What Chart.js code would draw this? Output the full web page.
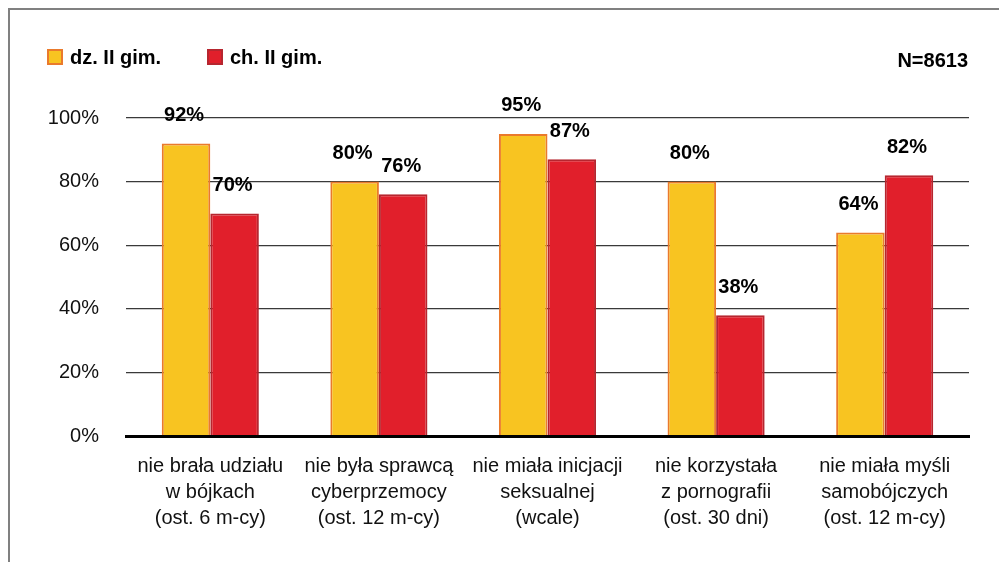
<!DOCTYPE html>
<html>
<head>
<meta charset="utf-8">
<script src="https://cdn.jsdelivr.net/npm/chart.js@4.4.1/dist/chart.umd.min.js"></script>
<style>
  html, body { margin: 0; padding: 0; background: #fff; }
  #wrap { position: relative; width: 999px; height: 562px; }
  #frame {
    position: absolute; left: 8px; top: 8px; right: 0; bottom: 0;
    border-top: 2px solid #808080; border-left: 2px solid #808080;
  }
  canvas { position: absolute; left: 0; top: 0; }
</style>
</head>
<body>
<div id="wrap">
  <div id="frame"></div>
  <canvas id="myChart" width="999" height="562"></canvas>
</div>
<script>
const FONT = '"Liberation Sans", Arial, Helvetica, sans-serif';

// dane
const categories = [
  ['nie brała udziału', 'w bójkach', '(ost. 6 m-cy)'],
  ['nie była sprawcą', 'cyberprzemocy', '(ost. 12 m-cy)'],
  ['nie miała inicjacji', 'seksualnej', '(wcale)'],
  ['nie korzystała', 'z pornografii', '(ost. 30 dni)'],
  ['nie miała myśli', 'samobójczych', '(ost. 12 m-cy)'],
];
const girlsII = [92, 80, 95, 80, 64];
const boysII = [70, 76, 87, 38, 82];
const seriesNames = ['dz. II gim.', 'ch. II gim.'];
const yTicks = [0, 20, 40, 60, 80, 100];
const sampleNote = 'N=8613';

// legenda, N i etykiety wartości
const extrasPlugin = {
  id: 'extras',
  afterDatasetsDraw(chart) {
    const ctx = chart.ctx;
    ctx.save();
    ctx.font = 'bold 20px ' + FONT;
    ctx.fillStyle = '#000';
    ctx.textAlign = 'center';
    ctx.textBaseline = 'middle';
    chart.data.datasets.forEach((ds, di) => {
      const meta = chart.getDatasetMeta(di);
      meta.data.forEach((bar, i) => {
        ctx.fillText(ds.data[i] + '%', bar.x - 2, bar.y - 28);
      });
    });

    // legenda
    const legendX = [48, 208];
    chart.data.datasets.forEach((ds, di) => {
      const x = legendX[di];
      ctx.fillStyle = ds.backgroundColor;
      ctx.fillRect(x, 50, 14, 14);
      ctx.strokeStyle = ds.borderColor;
      ctx.lineWidth = 2;
      ctx.strokeRect(x, 50, 14, 14);
      ctx.fillStyle = '#000';
      ctx.textAlign = 'left';
      ctx.fillText(ds.label, x + 22, 58);
    });

    ctx.textAlign = 'right';
    ctx.fillText(sampleNote, 968, 61);
    ctx.restore();
  }
};

const ctx = document.getElementById('myChart');

const config = {
  type: 'bar',
  data: {
    labels: categories,
    datasets: [
      {
        label: seriesNames[0],
        data: girlsII,
        backgroundColor: '#F8C421',
        borderColor: '#EA7A2C',
        borderWidth: 2,
        categoryPercentage: 0.576,
        barPercentage: 1,
      },
      {
        label: seriesNames[1],
        data: boysII,
        backgroundColor: '#E11F2B',
        borderColor: '#B6262F',
        borderWidth: 2,
        categoryPercentage: 0.576,
        barPercentage: 1,
      },
    ]
  },
  options: {
    responsive: false,
    animation: false,
    layout: {
      padding: { top: 118, right: 30, left: 0, bottom: 0 }
    },
    plugins: {
      legend: { display: false },
      tooltip: { enabled: false },
    },
    scales: {
      x: {
        grid: { display: false, drawTicks: false },
        border: { display: true, color: '#000', width: 3, z: 1 },
        ticks: {
          color: '#111',
          padding: 17,
          maxRotation: 0,
          autoSkip: false,
          font: { family: FONT, size: 20, lineHeight: 1.3 },
        },
        afterFit(scale) { scale.height = 126; },
      },
      y: {
        min: 0,
        max: 100,
        afterBuildTicks(scale) { scale.ticks = yTicks.map(v => ({ value: v })); },
        grid: { color: '#3a3a3a', lineWidth: 1.3, drawTicks: false },
        border: { display: false },
        ticks: {
          color: '#111',
          padding: 27,
          font: { family: FONT, size: 20 },
          callback: (v) => v + '%',
        },
        afterFit(scale) { scale.width = 126; },
      }
    }
  },
  plugins: [extrasPlugin],
};

let myChart = new Chart(ctx, config);
</script>
</body>
</html>
